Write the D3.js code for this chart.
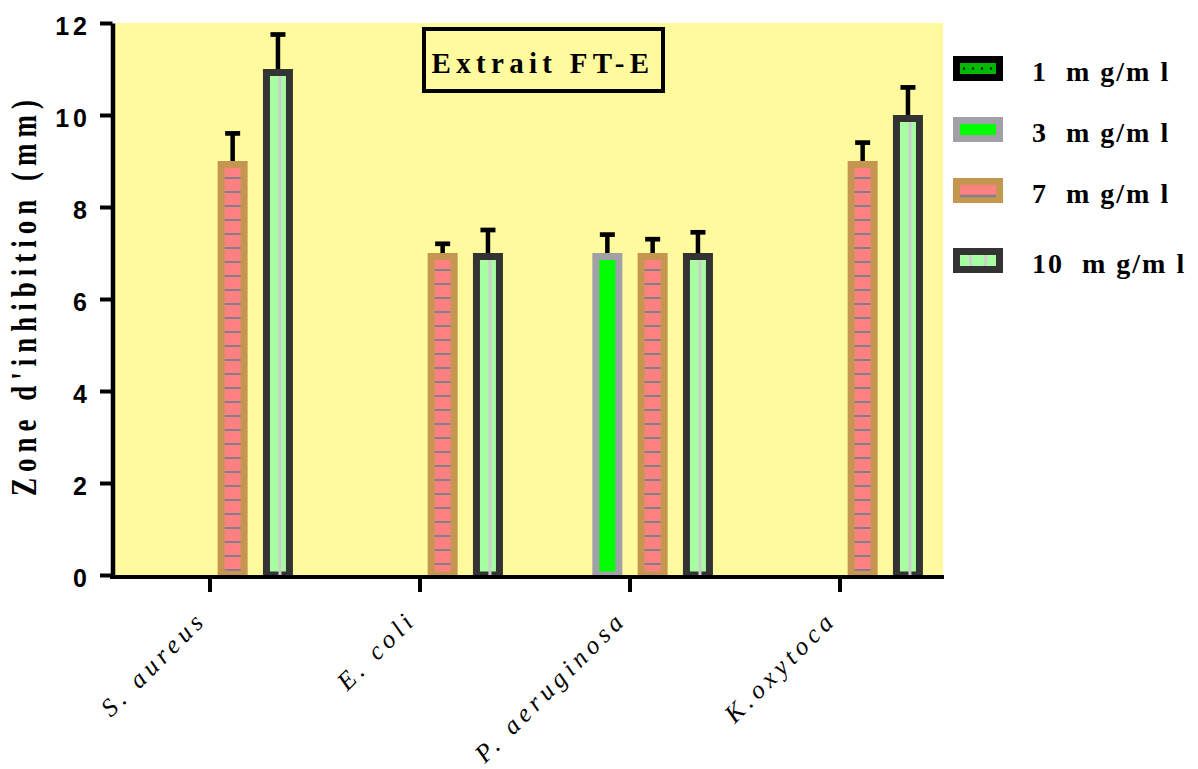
<!DOCTYPE html>
<html><head><meta charset="utf-8">
<script src="https://cdn.jsdelivr.net/npm/d3@7"></script>
<style>body{margin:0;background:#fff}</style>
</head><body><svg id="c" width="1198" height="769"></svg>
<script>
// ---- data ----
const categories = ["S. aureus", "E. coli", "P. aeruginosa", "K.oxytoca"];
const seriesNames = ["1 mg/ml", "3 mg/ml", "7 mg/ml", "10 mg/ml"];
const legendLabels = ["1  m g/m l", "3  m g/m l", "7  m g/m l", "10  m g/m l"];
const values1 = [null, null, null, null];
const values3 = [null, null, 7, null];
const values7 = [9, 7, 7, 9];
const values10 = [11, 7, 7, 10];
const err1 = [null, null, null, null];
const err3 = [null, null, 0.4, null];
const err7 = [0.6, 0.2, 0.3, 0.4];
const err10 = [0.75, 0.5, 0.45, 0.6];
const yTicks = [0, 2, 4, 6, 8, 10, 12];
const chartTitle = "Extrait FT-E";
const yTitle = "Zone d'inhibition (mm)";

const seriesValues = [values1, values3, values7, values10];
const seriesErrors = [err1, err3, err7, err10];
const fills = ["#00b800", "#00ff00", "#ff8080", "#a6ffa0"];
const strokes = ["#000000", "#a0a0a6", "#c4964f", "#333333"];
const yellow = "#fffa9e";

const svg = d3.select("#c");
const y = d3.scaleLinear().domain([0, 12]).range([575, 23]);
const x0 = d3.scaleBand().domain(categories).range([105, 945]);
const x1 = d3.scaleBand().domain(seriesNames).range([-90.6, 90.6]);
const cx = (c, s) => x0(c) + x0.bandwidth() / 2 + x1(s) + x1.bandwidth() / 2;

// plot background
svg.append("rect").attr("x", 115).attr("y", y(12)).attr("width", 828)
  .attr("height", y(0) - y(12)).attr("fill", yellow);

// title box
svg.append("rect").attr("x", 424).attr("y", 29).attr("width", 239).attr("height", 62)
  .attr("fill", "none").attr("stroke", "#000").attr("stroke-width", 4);
svg.append("text").attr("x", 543).attr("y", 73).attr("text-anchor", "middle")
  .style("font-family", "'Liberation Serif', 'Times New Roman', serif")
  .style("font-weight", "bold").style("font-size", "29px").style("letter-spacing", "5.3px")
  .text(chartTitle);

// bars
const barG = svg.append("g");
seriesNames.forEach((s, i) => {
  categories.forEach((c, j) => {
    const v = seriesValues[i][j];
    if (v == null) return;
    const xc = cx(c, s);
    const top = y(v);
    barG.append("rect").attr("x", xc - 11.5).attr("y", top + 3.5)
      .attr("width", 23).attr("height", y(0) - top - 3.5)
      .attr("fill", fills[i]).attr("stroke", strokes[i]).attr("stroke-width", 7);
    if (i === 2) {
      d3.range(top + 17, y(0) - 1, 14).forEach(yy => {
        barG.append("line").attr("x1", xc - 8).attr("x2", xc + 8)
          .attr("y1", yy).attr("y2", yy).attr("stroke", "#7f8088").attr("stroke-width", 2);
      });
    }
    if (i === 3) {
      barG.append("rect").attr("x", xc + 0.5).attr("y", top + 7).attr("width", 3)
        .attr("height", y(0) - top - 7).attr("fill", "#cdcdcd");
    }
    if (i === 0) {
      barG.append("line").attr("x1", xc).attr("x2", xc).attr("y1", top + 10).attr("y2", y(0))
        .attr("stroke", "#000").attr("stroke-width", 2).attr("stroke-dasharray", "2 6");
    }
    const e = seriesErrors[i][j];
    if (e != null) {
      const ye = y(v + e);
      barG.append("line").attr("x1", xc).attr("x2", xc).attr("y1", top).attr("y2", ye)
        .attr("stroke", "#000").attr("stroke-width", 4.5);
      barG.append("line").attr("x1", xc - 7.5).attr("x2", xc + 7.5).attr("y1", ye).attr("y2", ye)
        .attr("stroke", "#000").attr("stroke-width", 4.7);
    }
  });
});

// y axis
const yAxis = svg.append("g").attr("transform", "translate(112.5,0)")
  .call(d3.axisLeft(y).tickValues(yTicks).tickSize(12.5).tickSizeOuter(0).tickPadding(9));
yAxis.select(".domain").attr("stroke", "#000").attr("stroke-width", 4.5);
yAxis.selectAll(".tick line").attr("stroke", "#000").attr("stroke-width", 4);
yAxis.selectAll(".tick text").attr("dy", "0.47em").attr("fill", "#000")
  .style("font-family", "'Liberation Sans', Arial, sans-serif").style("font-weight", "bold")
  .style("font-size", "25px").style("letter-spacing", "4px");

// x axis
svg.append("line").attr("x1", 110).attr("x2", 944).attr("y1", 577).attr("y2", 577)
  .attr("stroke", "#000").attr("stroke-width", 4);
const xAxis = svg.append("g").attr("transform", "translate(0,577)")
  .call(d3.axisBottom(x0).tickSize(15).tickSizeOuter(0));
xAxis.select(".domain").remove();
xAxis.selectAll(".tick line").attr("stroke", "#000").attr("stroke-width", 4);
xAxis.selectAll(".tick text").attr("x", 0).attr("y", 0).attr("dy", 0)
  .attr("text-anchor", "end").attr("fill", "#000")
  .attr("transform", "translate(-2,44) rotate(-45)")
  .style("font-family", "'Liberation Serif', 'Times New Roman', serif")
  .style("font-style", "italic").style("font-size", "25.5px").style("letter-spacing", "4.8px");

// y title
svg.append("text").attr("transform", "translate(36,298) rotate(-90) scale(1,1.3)")
  .attr("x", 3).attr("text-anchor", "middle")
  .style("font-family", "'Liberation Serif', 'Times New Roman', serif")
  .style("font-weight", "bold").style("font-size", "27px").style("letter-spacing", "6px")
  .text(yTitle);

// legend
const legendY = [68.5, 129.5, 190.5, 260.5];
const lg = svg.append("g");
seriesNames.forEach((s, i) => {
  const cy = legendY[i];
  lg.append("rect").attr("x", 956.5).attr("y", cy - 9).attr("width", 43).attr("height", 18)
    .attr("fill", fills[i]).attr("stroke", strokes[i]).attr("stroke-width", 7);
  if (i === 0) {
    lg.append("line").attr("x1", 963).attr("x2", 997).attr("y1", cy).attr("y2", cy)
      .attr("stroke", "#000").attr("stroke-width", 2).attr("stroke-dasharray", "2 7");
  }
  if (i === 2) {
    lg.append("line").attr("x1", 960).attr("x2", 996).attr("y1", cy + 5.5).attr("y2", cy + 5.5)
      .attr("stroke", "#7f8088").attr("stroke-width", 2.5);
  }
  if (i === 3) {
    [969, 984].forEach(xx => lg.append("rect").attr("x", xx).attr("y", cy - 5.5)
      .attr("width", 3).attr("height", 11).attr("fill", "#cdcdcd"));
  }
  lg.append("text").attr("x", 1032).attr("y", cy + 12).attr("fill", "#000")
    .style("white-space", "pre")
    .style("font-family", "'Liberation Serif', 'Times New Roman', serif")
    .style("font-weight", "bold").style("font-size", "28px").style("letter-spacing", "2px")
    .text(legendLabels[i]);
});
</script></body></html>
